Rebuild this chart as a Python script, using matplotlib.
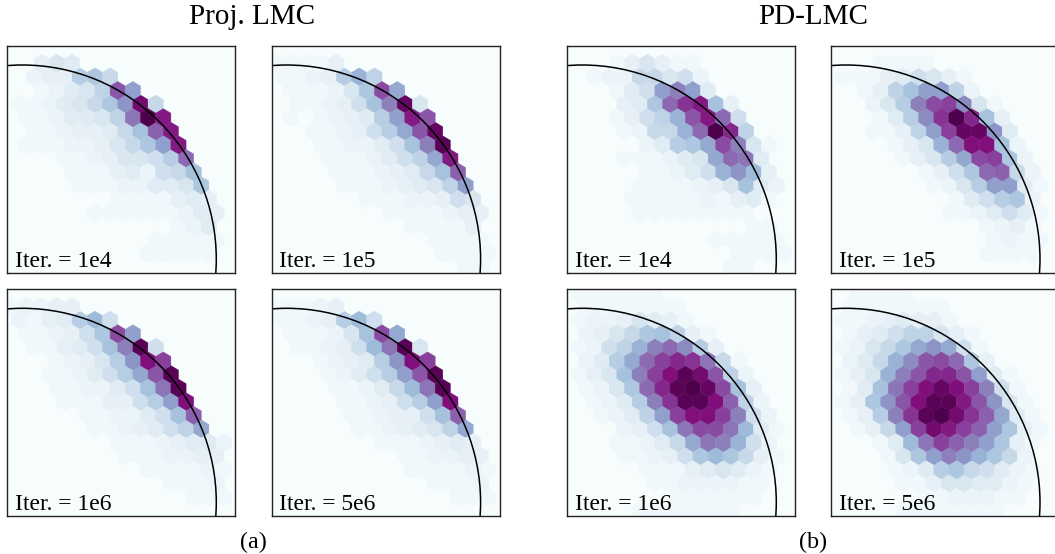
import numpy as np
import matplotlib
matplotlib.use('Agg')
import matplotlib.pyplot as plt
from matplotlib.patches import Circle

plt.rcParams['font.family'] = ['Liberation Serif', 'DejaVu Serif']

# density of each hexagon (0-32, 32 = darkest)
# one list per hexagon row from the top, trailing empty cells left out
proj_1e4 = [
    [],
    [0,0,3,5,4],
    [0,0,2,3,3,9,10,7],
    [0,0,1,2,4,5,8,22,15],
    [0,1,1,2,4,5,7,10,16,29,7],
    [0,1,1,2,4,4,5,8,19,32,27],
    [0,0,1,1,2,3,3,4,7,11,21,27],
    [0,1,1,1,2,2,3,5,7,10,15,27],
    [0,0,0,0,1,1,2,3,5,5,6,9,20],
    [0,0,0,0,1,1,1,3,4,2,6,7,11],
    [0,0,0,0,0,1,1,1,2,2,4,4,5,10],
    [0,0,0,0,0,0,0,1,1,1,1,3,4,3],
    [0,0,0,0,0,0,1,1,1,1,1,1,2,4,3],
    [0,0,0,0,0,0,0,0,0,0,0,1,2,4],
    [0,0,0,0,0,0,0,0,0,0,1,1,1,1,1],
    [0,0,0,0,0,0,0,0,0,1,1,1,1,1],
    [],
]
proj_1e5 = [
    [],
    [1,1,1,1,3],
    [0,1,1,2,3,9,13,8],
    [0,1,1,1,2,5,10,23,14],
    [0,0,1,1,2,3,6,11,18,30,5],
    [0,1,0,1,2,3,4,9,15,27,22],
    [0,0,0,1,1,2,3,6,9,14,22,30],
    [0,0,0,1,1,2,2,4,6,11,18,31],
    [0,0,0,0,1,1,1,2,4,6,8,14,27],
    [0,0,0,0,1,1,1,2,3,4,7,11,21],
    [0,0,0,0,0,1,1,1,2,3,4,5,8,15],
    [0,0,0,0,0,0,1,1,1,2,2,3,6,5],
    [0,0,0,0,0,0,0,0,1,1,1,1,2,3,3],
    [0,0,0,0,0,0,0,0,0,1,1,1,1,3],
    [0,0,0,0,0,0,0,0,0,0,0,1,1,1,1],
    [0,0,0,0,0,0,0,0,0,0,0,1,1,1,1],
    [0,0,0,0,0,0,0,0,0,0,0,0,0,1,1],
]
proj_1e6 = [
    [],
    [1,2,2,3,3],
    [0,2,1,3,4,9,12,6],
    [0,1,1,2,3,6,10,23,15],
    [0,0,1,1,3,4,6,11,18,31,6],
    [0,0,0,1,2,3,5,9,16,28,24],
    [0,0,0,1,1,2,4,6,9,14,22,31],
    [0,0,0,1,1,2,2,4,6,11,19,31],
    [0,0,0,0,1,1,1,3,3,6,9,15,28],
    [0,0,0,0,0,1,1,2,2,4,6,11,21],
    [0,0,0,0,0,0,1,1,2,3,4,6,8,14],
    [0,0,0,0,0,0,0,1,1,1,2,3,4,4,2],
    [0,0,0,0,0,0,0,0,1,1,1,2,2,3,3],
    [0,0,0,0,0,0,0,0,0,1,1,1,1,2,1],
    [0,0,0,0,0,0,0,0,0,0,0,1,1,1,2],
    [0,0,0,0,0,0,0,0,0,0,0,0,1,1,1],
    [],
]
proj_5e6 = [
    [],
    [1,1,1,2,3],
    [0,1,1,2,3,9,12,6],
    [0,1,1,1,2,5,11,23,14],
    [0,0,1,1,2,3,6,12,19,31,5],
    [0,0,0,1,2,3,4,9,16,28,24],
    [0,0,0,0,1,2,4,6,9,15,22,31],
    [0,0,0,0,1,1,2,4,7,12,19,31],
    [0,0,0,0,0,1,1,2,3,6,9,15,28],
    [0,0,0,0,0,1,1,2,3,3,6,11,21],
    [0,0,0,0,0,0,1,1,2,3,4,5,8,14],
    [0,0,0,0,0,0,0,1,1,1,2,3,4,3],
    [0,0,0,0,0,0,0,0,0,1,1,2,2,3,3],
    [0,0,0,0,0,0,0,0,0,1,1,1,1,2,1],
    [0,0,0,0,0,0,0,0,0,0,0,1,1,1,2],
    [0,0,0,0,0,0,0,0,0,0,0,0,1,1,1],
    [],
]
pd_1e4 = [
    [],
    [0,0,0,1,3,5,3,1,1],
    [0,0,1,2,2,7,7,5,6,2],
    [0,0,0,1,4,6,15,18,15,4],
    [0,0,0,0,3,4,10,20,25,27,11,3],
    [0,0,0,1,3,6,8,13,22,27,20,6],
    [0,0,0,0,1,2,7,7,13,20,32,26,8],
    [0,0,0,0,0,2,4,9,10,14,23,18,5,1],
    [0,0,0,0,1,1,1,2,4,5,14,20,19,4],
    [0,0,0,0,0,1,1,2,4,6,13,16,12,3],
    [0,0,0,0,0,1,1,1,1,2,3,5,11,4,2],
    [0,0,0,0,1,1,1,1,1,2,1,3,4,1],
    [0,0,0,0,0,1,1,1,1,1,1,1,1],
    [0,0,0,0,0,0,0,0,0,0,0,0,1,1],
    [0,0,0,0,0,0,0,0,0,0,1,1,1,1,1],
    [0,0,0,0,0,0,0,0,0,0,0,1,1,1,1],
    [0,0,0,0,0,0,0,0,0,0,0,1,1],
]
pd_1e5 = [
    [],
    [0,0,0,1,1,1,1],
    [0,1,1,1,3,4,6,5,3,1],
    [0,0,1,3,8,11,15,15,8,2],
    [0,0,0,2,5,9,18,23,24,17,5,1],
    [0,0,0,1,4,9,17,25,32,26,11,3],
    [0,0,0,1,1,3,8,15,24,30,30,16,4],
    [0,0,0,0,1,3,5,13,20,28,28,11,2],
    [0,0,0,0,0,1,3,5,9,14,23,24,10,2],
    [0,0,0,0,0,0,1,3,6,10,20,21,7,2],
    [0,0,0,0,0,0,0,1,2,5,9,15,15,4,1],
    [0,0,0,0,0,0,0,0,1,4,6,9,10,2],
    [0,0,0,0,0,0,0,0,1,1,2,4,6,4,1],
    [0,0,0,0,0,0,0,0,0,0,1,2,3,1],
    [0,0,0,0,0,0,0,0,0,0,0,1,2,1,1],
    [0,0,0,0,0,0,0,0,0,0,1,1,1,1],
    [],
]
pd_1e6 = [
    [0,1,1,1,1,1,1],
    [0,1,1,1,1,1,1,1],
    [0,1,2,2,3,5,4,3,1],
    [0,2,3,5,7,10,11,8,3,1],
    [0,1,2,6,8,13,18,20,17,9,3],
    [0,2,4,9,14,20,24,26,25,19,7,1],
    [0,1,3,5,11,18,24,28,31,29,22,8,2],
    [0,1,2,5,10,20,26,31,32,30,23,11,3],
    [0,0,1,2,4,9,18,25,31,31,28,21,8,2],
    [0,0,1,2,4,8,15,24,28,28,24,18,6,2],
    [0,0,0,0,2,3,6,11,19,23,23,19,12,4,1],
    [0,0,0,1,1,2,4,7,14,19,18,13,6,2],
    [0,0,0,0,1,1,2,3,6,10,12,10,7,3,1],
    [0,0,0,0,0,1,1,1,3,4,5,4,2,1],
    [0,0,0,0,0,0,1,1,2,2,2,2,1,1],
    [0,0,0,0,0,0,0,1,1,1,1,1,1],
    [0,0,0,0,0,1,1,1,1,1,1,1],
]
pd_5e6 = [
    [0,0,1,1,1,1],
    [0,1,1,1,1,1,1,1],
    [0,1,1,2,3,4,3,3,1],
    [0,1,3,4,6,8,8,5,3,1],
    [0,1,2,5,7,10,14,16,14,6,1],
    [0,2,4,7,13,17,22,23,20,10,3],
    [0,1,3,5,13,18,22,26,26,22,15,4,1],
    [0,1,4,11,19,24,28,30,28,24,18,6,1],
    [0,1,3,10,16,22,28,31,31,27,22,16,5,1],
    [0,1,3,9,18,25,31,32,29,25,21,14,4,1],
    [0,0,1,3,7,15,24,29,27,24,21,15,10,3,1],
    [0,0,0,1,4,12,19,24,21,18,15,10,3,1],
    [0,0,0,0,1,5,10,15,18,16,13,10,7,2],
    [0,0,0,0,1,2,4,9,10,7,6,4,2,1],
    [0,0,0,0,0,1,1,3,5,5,4,4,2,1],
    [0,0,0,0,0,0,1,1,2,2,2,1,1],
    [0,0,0,0,0,1,1,1,1,1,1,1],
]

panels = [[proj_1e4, proj_1e5, pd_1e4, pd_1e5],
          [proj_1e6, proj_5e6, pd_1e6, pd_5e6]]
iter_labels = [['Iter. = 1e4', 'Iter. = 1e5', 'Iter. = 1e4', 'Iter. = 1e5'],
               ['Iter. = 1e6', 'Iter. = 5e6', 'Iter. = 1e6', 'Iter. = 5e6']]
group_titles = ['Proj. LMC', 'PD-LMC']
group_captions = ['(a)', '(b)']

W, H = 1055.0, 554.0
LEFTS = [7.3, 271.6, 567.3, 831.0]
TOPS = [46.0, 289.3]
AX_W, AX_H = 228.0, 227.0

# hexagon lattice, same way hexbin builds it
XLIM = (-0.0773, 1.098)
YLIM = (-0.0722, 1.098)
SX, SY = 0.07835, 0.1402
X0, Y0 = -0.0959, -0.0428
NX, NY = 15, 8


def grid_to_xy(rows):
    xs, ys, vals = [], [], []
    for r, row in enumerate(rows):
        for k, v in enumerate(row):
            xs.append(X0 + (k + (0.5 if r % 2 else 0.0)) * SX)
            ys.append(Y0 + (NY - r * 0.5) * SY)
            vals.append(v)
    return np.array(xs), np.array(ys), np.array(vals, dtype=float)


fig = plt.figure(figsize=(W / 100, H / 100), dpi=100)

for i in range(2):
    for j in range(4):
        ax = fig.add_axes([LEFTS[j] / W, 1 - (TOPS[i] + AX_H) / H, AX_W / W, AX_H / H])
        ax.set_facecolor('#f7fcfd')
        x, y, c = grid_to_xy(panels[i][j])
        ax.hexbin(x, y, C=c, gridsize=(NX, NY), cmap='BuPu', vmin=0, vmax=32,
                  extent=(X0, X0 + NX * SX, Y0, Y0 + NY * SY),
                  reduce_C_function=np.mean, linewidths=0.3)
        ax.add_patch(Circle((0, 0), 1.0, fill=False, edgecolor='black', linewidth=1.1))
        ax.set_xlim(XLIM)
        ax.set_ylim(YLIM)
        ax.set_xticks([])
        ax.set_yticks([])
        for s in ax.spines.values():
            s.set_linewidth(1.0)
            s.set_edgecolor('#222222')
        ax.text(0.034, 0.028, iter_labels[i][j], transform=ax.transAxes,
                fontsize=17, color='black', ha='left', va='baseline')

# group titles and captions
for n, cx in enumerate([252.5, 813.0]):
    fig.text(cx / W, 1 - 23.5 / H, group_titles[n], fontsize=21, ha='center', va='baseline')
for n, cx in enumerate([253.0, 813.0]):
    fig.text(cx / W, 1 - 548 / H, group_captions[n], fontsize=17.4, ha='center', va='baseline')

plt.savefig('out.png', dpi=100)
